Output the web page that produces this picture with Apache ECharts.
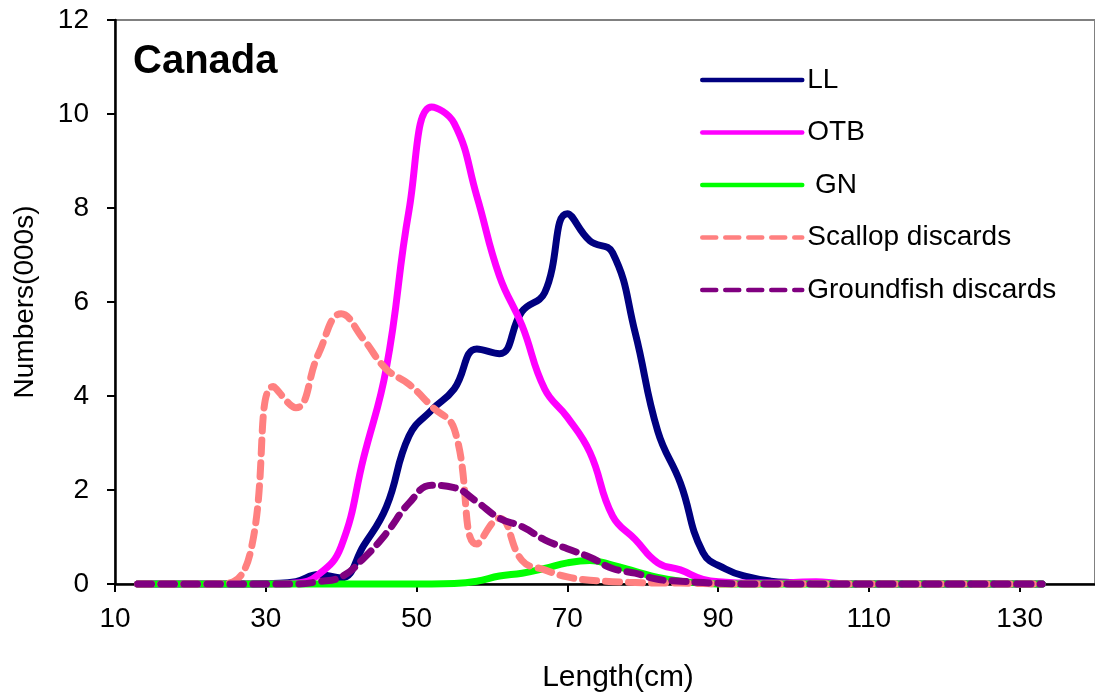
<!DOCTYPE html>
<html>
<head>
<meta charset="utf-8">
<script src="https://cdn.jsdelivr.net/npm/echarts@6/dist/echarts.min.js"></script>
<style>
html,body{margin:0;padding:0;background:#fff;}
#chart{width:1095px;height:698px;}
</style>
</head>
<body>
<div id="chart"></div>
<script>
// Length bins (cm)
var lengths = [13,16,19,22,25,28,31,34,37,40,43,46,49,52,55,58,61,64,67,70,73,76,79,82,85,88,91,94,97,100,103,106,109,112,115,118,121,124,127,130,133];
var seriesNames = ['LL', 'OTB', ' GN', 'Scallop discards', 'Groundfish discards'];
var llValues = [0,0,0,0,0,0,0.01,0.05,0.2,0.13,0.82,1.64,3.15,3.7,4.15,5.0,4.9,5.8,6.2,7.88,7.3,7.05,5.35,3.25,2.15,0.67,0.32,0.15,0.06,0.03,0.01,0,0,0,0,0,0,0,0,0,0];
var otbValues = [0,0,0,0,0,0,0,0.02,0.2,0.8,2.7,4.6,7.95,10.15,9.8,8.25,6.55,5.5,4.15,3.55,2.8,1.45,0.95,0.45,0.3,0.1,0.04,0.02,0.02,0.03,0.05,0.01,0,0,0,0,0,0,0,0,0];
var gnValues = [0,0,0,0,0,0,0,0,0,0,0,0,0,0,0.01,0.06,0.17,0.23,0.33,0.45,0.5,0.4,0.27,0.14,0.06,0.02,0,0,0,0,0,0,0,0,0,0,0,0,0,0,0];
var scallopValues = [0,0,0,0,0.02,0.7,4.2,3.75,4.9,5.75,5.2,4.57,4.25,3.78,3.3,0.85,1.4,0.5,0.3,0.15,0.08,0.05,0.03,0.02,0.02,0.01,0,0,0,0,0,0,0,0,0,0,0,0,0,0,0];
var groundfishValues = [0,0,0,0,0,0,0,0,0.05,0.15,0.55,1.08,1.72,2.1,2.05,1.75,1.4,1.22,0.94,0.75,0.57,0.33,0.23,0.1,0.06,0.03,0.01,0,0,0,0,0,0,0,0,0,0,0,0,0,0,0];

var FONT = 'Liberation Sans, Arial, sans-serif';
function pairs(vals){ return lengths.map(function(x,i){ return [x, vals[i]]; }); }

var LW = 7;
var LEGEND_LW = 4.5;
var dash = [14, 9];
var styles = [
  {color:'#000080', type:'solid'},
  {color:'#FF00FF', type:'solid'},
  {color:'#00FF00', type:'solid'},
  {color:'#FF8080', type:dash},
  {color:'#800080', type:dash}
];
var allValues = [llValues, otbValues, gnValues, scallopValues, groundfishValues];

var series = seriesNames.map(function(name, i){
  return {
    name: name,
    type: 'line',
    data: pairs(allValues[i]),
    smooth: 0.45,
    symbol: 'none',
    showSymbol: false,
    clip: false,
    lineStyle: {color: styles[i].color, width: LW, type: styles[i].type, cap: 'round', join: 'round'},
    itemStyle: {color: styles[i].color},
    emphasis: {disabled: true},
    z: 2 + i
  };
});

var chart = echarts.init(document.getElementById('chart'), null, {renderer: 'canvas'});
chart.setOption({
  animation: false,
  backgroundColor: '#fff',
  title: {
    text: 'Canada', left: 133, top: 42, padding: 0,
    textStyle: {fontFamily: FONT, fontSize: 40, fontWeight: 'bold', color: '#000'}
  },
  legend: {
    orient: 'vertical', left: 700, top: 66, padding: 0,
    itemWidth: 100, itemHeight: 10, itemGap: 24.5,
    data: seriesNames,
    itemStyle: {opacity: 0},
    lineStyle: {width: LEGEND_LW, cap: 'round'},
    textStyle: {fontFamily: FONT, fontSize: 28, color: '#000', lineHeight: 27}
  },
  grid: {left: 115, top: 20, bottom: 114, right: -7, show: true, borderColor: '#808080', borderWidth: 2, backgroundColor: 'transparent'},
  xAxis: {
    type: 'value', min: 10, max: 140, interval: 20,
    name: 'Length(cm)', nameLocation: 'middle', nameGap: 79,
    nameTextStyle: {fontFamily: FONT, fontSize: 30, color: '#000', padding: [0,0,0,26]},
    axisLine: {show: true, onZero: false, lineStyle: {color: '#000', width: 2.5}},
    axisTick: {show: true, inside: false, length: 8, lineStyle: {color: '#000', width: 2}},
    axisLabel: {fontFamily: FONT, fontSize: 28, color: '#000', margin: 21, showMaxLabel: false},
    splitLine: {show: false}
  },
  yAxis: {
    type: 'value', min: 0, max: 12, interval: 2,
    name: 'Numbers(000s)', nameLocation: 'middle', nameGap: 76,
    nameTextStyle: {fontFamily: FONT, fontSize: 28, color: '#000'},
    axisLine: {show: true, lineStyle: {color: '#000', width: 2.5}},
    axisTick: {show: true, inside: false, length: 8, lineStyle: {color: '#000', width: 2}},
    axisLabel: {fontFamily: FONT, fontSize: 28, color: '#000', margin: 26},
    splitLine: {show: false}
  },
  series: series
});
</script>
</body>
</html>
